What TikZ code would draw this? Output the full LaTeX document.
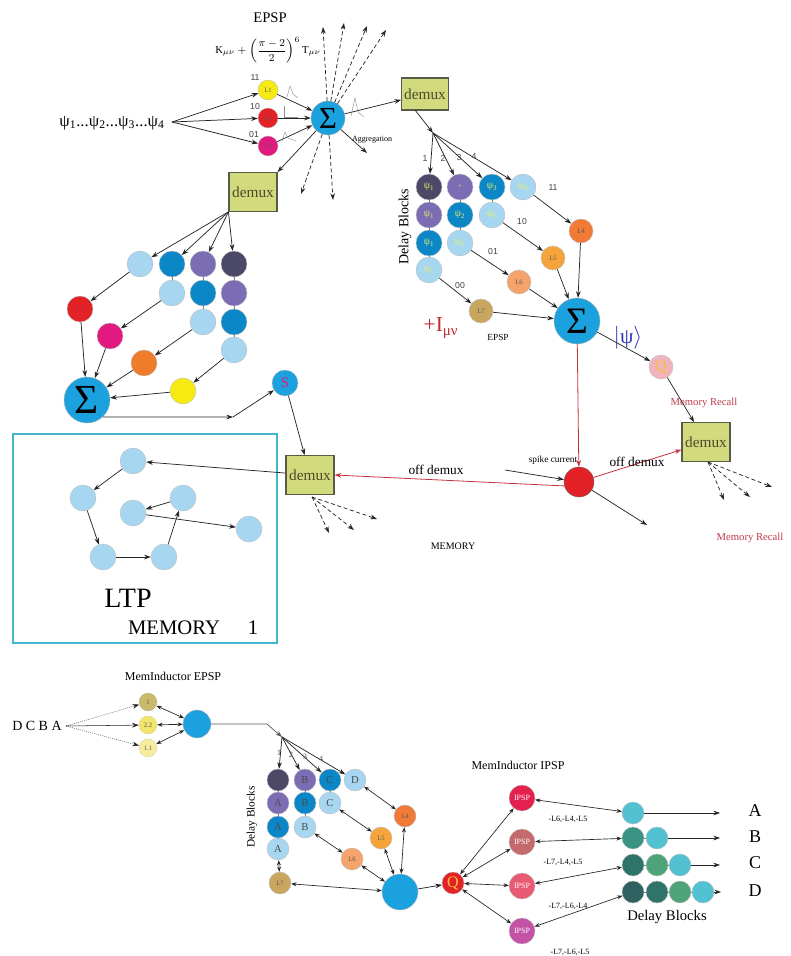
\documentclass[tikz,border=0pt]{standalone}
\usepackage{fontspec}
\setmainfont{Liberation Serif}
\newfontfamily\sansf{Liberation Sans}
\usetikzlibrary{arrows.meta}
\newcommand{\myfs}[1]{\fontsize{#1}{#1}\selectfont}
\definecolor{sigblue}{HTML}{1BA1DD}
\definecolor{dmx}{HTML}{D2DA7E}
\definecolor{dmxb}{HTML}{5A5A4A}
\definecolor{dmxt}{HTML}{4A4A2A}
\definecolor{cdark}{HTML}{4B4868}
\definecolor{cpurp}{HTML}{7B6CB4}
\definecolor{cblue}{HTML}{0B86C6}
\definecolor{clight}{HTML}{A6D6F0}
\definecolor{yel}{HTML}{F7EA10}
\definecolor{redc}{HTML}{E32227}
\definecolor{mag}{HTML}{E2197F}
\definecolor{orng}{HTML}{EF7C2A}
\definecolor{lfour}{HTML}{F07A36}
\definecolor{lfive}{HTML}{F5A43C}
\definecolor{lsix}{HTML}{F4A36A}
\definecolor{lseven}{HTML}{C9A65E}
\definecolor{qpink}{HTML}{F2B4BC}
\definecolor{qtext}{HTML}{F5C040}
\definecolor{redline}{HTML}{C8323F}
\definecolor{recall}{HTML}{C03A4A}
\definecolor{ltpbox}{HTML}{3FB6CC}
\definecolor{psiyel}{HTML}{E8F06A}
\definecolor{kblue}{HTML}{2A35B5}
\definecolor{termred}{HTML}{C02A30}
\definecolor{bone}{HTML}{C8BA6A}
\definecolor{btwo}{HTML}{F2E46A}
\definecolor{bthree}{HTML}{F6EC9C}
\definecolor{ipone}{HTML}{E4204E}
\definecolor{iptwo}{HTML}{C46A6C}
\definecolor{ipthree}{HTML}{E85A72}
\definecolor{ipfour}{HTML}{C452A6}
\definecolor{tcyan}{HTML}{52C2D2}
\definecolor{tgreen}{HTML}{4EA478}
\definecolor{tmid}{HTML}{3A9484}
\definecolor{tdark}{HTML}{2E7468}
\definecolor{tdarker}{HTML}{2E6262}
\begin{document}
\begin{tikzpicture}[x=0.75pt,y=-0.75pt,
  nd/.style={circle,inner sep=0pt,minimum size=#1,draw=black!25,line width=0.3pt},
  arr/.style={-{Stealth[length=5pt,width=3.5pt]},draw=black!85,line width=0.55pt},
  barr/.style={{Stealth[length=4pt,width=3pt]}-{Stealth[length=4pt,width=3pt]},draw=black!85,line width=0.5pt},
  darr/.style={-{Stealth[length=5pt,width=3.5pt]},draw=black!85,line width=0.55pt,dash pattern=on 3pt off 2pt},
  rarr/.style={-{Stealth[length=5pt,width=3.5pt]},draw=redline,line width=0.6pt},
  link/.style={draw=black!50,line width=0.4pt},
  pulse/.style={draw=black!45,line width=0.3pt},
  dmxbox/.style={rectangle,draw=dmxb,fill=dmx,line width=0.8pt,minimum width=36pt,minimum height=29pt,inner sep=0pt,font=\myfs{11.5},text=dmxt},
  sml/.style={font=\sansf\myfs{6.5},text=black!75},
  lab/.style={font=\myfs{5},text=black!65},
  psil/.style={font=\myfs{7.5},text=psiyel},
  abc/.style={font=\myfs{8},text=black!70}
]
\fill[white] (0,0) rectangle (791,956);
\useasboundingbox (0,0) rectangle (791,956);

%================ TOP =================
\node[font=\myfs{11}] (epsp) at (270,18) {EPSP};
\node[font=\myfs{8}] (formula) at (268,50) {$\displaystyle \mathrm{K}_{\mu\nu}+\left(\frac{\pi-2}{2}\right)^{6}\mathrm{T}_{\mu\nu}$};
\node[font=\myfs{12.5}] (psi) at (112,123) {ψ\textsubscript{1}...ψ\textsubscript{2}...ψ\textsubscript{3}...ψ\textsubscript{4}};
\coordinate (psiR) at (172,122);

\node[nd=15pt,fill=yel,lab] (L1) at (268,90) {L1};
\node[nd=15pt,fill=redc,lab] (L2) at (268,118) {L2};
\node[nd=15pt,fill=mag,lab] (L3) at (268,146) {L3};
\node[sml] at (255,78) {11};
\node[sml] at (255,107) {10};
\node[sml] at (254,135) {01};

\node[nd=25.5pt,fill=sigblue,draw=black!30,font=\myfs{23}] (SigT) at (328,118) {Σ};
\node[dmxbox,minimum width=35pt,minimum height=24pt] (demuxT) at (425,94) {demux};
\node[dmxbox] (demuxL) at (253,192) {demux};

\draw[arr] (psiR) -- (L1);
\draw[arr] (psiR) -- (L2);
\draw[arr] (psiR) -- (L3);
\draw[arr] (L1) -- (SigT);
\draw[arr] (L2) -- (SigT);
\draw[arr] (L3) -- (SigT);
\draw[arr] (SigT) -- (demuxT);
\draw[arr] (SigT) -- (demuxL.north east);

% pulses
\draw[pulse] (287,97) -- (290,86) -- (293,94) -- (298,98);
\draw[pulse] (284,106) -- (284,117) -- (298,117);
\draw[pulse] (282,141) -- (285,132) -- (288,138) -- (296,141);
\draw[pulse] (351,116) -- (355,98) -- (358,112) -- (364,117);

% dashed fan
\coordinate (t1) at (323,27);
\coordinate (t2) at (344,23);
\coordinate (t3) at (367,26);
\coordinate (t4) at (386,30);
\coordinate (t5) at (301,194);
\coordinate (t6) at (333,200);
\coordinate (t7) at (367,153);
\draw[darr] (SigT) -- (t1);
\draw[darr] (SigT) -- (t2);
\draw[darr] (SigT) -- (t3);
\draw[darr] (SigT) -- (t4);
\draw[darr] (SigT) -- (t5);
\draw[darr] (SigT) -- (t6);
\draw[arr] (SigT) -- (t7);
\node[font=\myfs{6}] at (372,140) {Aggregation};

%================ TOP RIGHT =================
\coordinate (dTo) at (415,110);
\coordinate (sp1) at (433,133);
\draw[arr] (dTo) -- (sp1);

\node[nd=19.5pt,fill=cdark,psil] (D11) at (429,187) {ψ\textsubscript{1}};
\node[nd=19.5pt,fill=cpurp,psil] (D12) at (460,187) {\myfs{5}+};
\node[nd=19.5pt,fill=cblue,psil] (D13) at (492,187) {ψ\textsubscript{3}};
\node[nd=19.5pt,fill=clight,psil] (D14) at (523,187) {ψ\textsubscript{4}};
\node[nd=19.5pt,fill=cpurp,psil] (D21) at (429,215) {ψ\textsubscript{1}};
\node[nd=19.5pt,fill=cblue,psil] (D22) at (460,215) {ψ\textsubscript{2}};
\node[nd=19.5pt,fill=clight,psil] (D23) at (492,215) {ψ\textsubscript{3}};
\node[nd=19.5pt,fill=cblue,psil] (D31) at (429,243) {ψ\textsubscript{1}};
\node[nd=19.5pt,fill=clight,psil] (D32) at (460,243) {ψ\textsubscript{2}};
\node[nd=19.5pt,fill=clight,psil] (D41) at (429,270) {ψ\textsubscript{1}};
\draw[link] (D11) -- (D21) -- (D31) -- (D41);
\draw[link] (D12) -- (D22) -- (D32);
\draw[link] (D13) -- (D23);

\draw[arr] (sp1) -- (D11);
\draw[arr] (sp1) -- (D12);
\draw[arr] (sp1) -- (D13);
\draw[arr] (sp1) -- (D14);
\node[sml] at (425,159) {1};
\node[sml] at (443,158) {2};
\node[sml] at (459,158) {3};
\node[sml] at (474,157) {4};
\node[rotate=90,font=\myfs{10.5}] at (405,227) {Delay Blocks};
\node[sml] at (553,188) {11};
\node[sml] at (522,222) {10};
\node[sml] at (493,252) {01};
\node[sml] at (460,286) {00};

\node[nd=18pt,fill=lfour,lab] (L4) at (581,231) {L4};
\node[nd=18pt,fill=lfive,lab] (L5) at (553,258) {L5};
\node[nd=18pt,fill=lsix,lab] (L6) at (519,282) {L6};
\node[nd=18pt,fill=lseven,lab] (L7) at (481,311) {L7};
\node[nd=34.5pt,fill=sigblue,draw=black!30,font=\myfs{28}] (SigB) at (577,321) {Σ};
\draw[arr] (D14) -- (L4);
\draw[arr] (D23) -- (L5);
\draw[arr] (D32) -- (L6);
\draw[arr] (D41) -- (L7);
\draw[arr] (L4) -- (SigB);
\draw[arr] (L5) -- (SigB);
\draw[arr] (L6) -- (SigB);
\draw[arr] (L7) -- (SigB);
\node[font=\myfs{16},text=termred] at (441,328) {+I\textsubscript{μν}};
\node[font=\myfs{7}] at (498,337) {EPSP};
\node[font=\myfs{16},text=kblue] at (628,338) {$\left|\mbox{ψ}\right\rangle$};

\node[nd=18pt,fill=qpink,font=\myfs{12},text=qtext] (Q) at (661,367) {Q};
\node[dmxbox] (demuxR) at (706,442) {demux};
\node[font=\myfs{8},text=recall] at (704,403) {Memory Recall};
\node[nd=22.5pt,fill=redc,draw=black!60] (redC) at (579,482) {};
\draw[arr] (SigB) -- (Q);
\draw[arr] (Q) -- (demuxR);
\draw[rarr] (SigB) -- (redC);
\draw[rarr] (redC) -- (demuxR);
\node[font=\myfs{7}] at (553,460) {spike current};
\coordinate (spk) at (505,470);
\draw[arr] (spk) -- (redC);
\coordinate (rout) at (647,525);
\draw[arr] (redC) -- (rout);
\node[font=\myfs{10}] at (637,462) {off demux};
\coordinate (dRo) at (708,462);
\coordinate (r1) at (724,500);
\coordinate (r2) at (750,497);
\coordinate (r3) at (772,487);
\draw[darr] (dRo) -- (r1);
\draw[darr] (dRo) -- (r2);
\draw[darr] (dRo) -- (r3);
\node[font=\myfs{8},text=recall] at (750,538) {Memory Recall};

%================ LEFT =================
\node[nd=19.5pt,fill=clight] (E11) at (140,264) {};
\node[nd=19.5pt,fill=cblue] (E12) at (172,264) {};
\node[nd=19.5pt,fill=cpurp] (E13) at (203,264) {};
\node[nd=19.5pt,fill=cdark] (E14) at (234,264) {};
\node[nd=19.5pt,fill=clight] (E22) at (172,293) {};
\node[nd=19.5pt,fill=cblue] (E23) at (203,293) {};
\node[nd=19.5pt,fill=cpurp] (E24) at (234,293) {};
\node[nd=19.5pt,fill=clight] (E33) at (203,322) {};
\node[nd=19.5pt,fill=cblue] (E34) at (234,322) {};
\node[nd=19.5pt,fill=clight] (E44) at (234,350) {};
\draw[link] (E12) -- (E22);
\draw[link] (E13) -- (E23) -- (E33);
\draw[link] (E14) -- (E24) -- (E34) -- (E44);
\draw[arr] (demuxL.south west) -- (E11);
\draw[arr] (demuxL.south west) -- (E12);
\draw[arr] (demuxL.south west) -- (E13);
\draw[arr] (demuxL.south west) -- (E14);

\node[nd=19.5pt,fill=redc] (Rd) at (80,309) {};
\node[nd=19.5pt,fill=mag] (Mg) at (110,336) {};
\node[nd=19.5pt,fill=orng] (Or) at (144,363) {};
\node[nd=19.5pt,fill=yel] (Ye) at (183,391) {};
\node[nd=34.5pt,fill=sigblue,draw=black!30,font=\myfs{31}] (SigL) at (87,400) {Σ};
\draw[arr] (E11) -- (Rd);
\draw[arr] (E22) -- (Mg);
\draw[arr] (E33) -- (Or);
\draw[arr] (E44) -- (Ye);
\draw[arr] (Rd) -- (SigL);
\draw[arr] (Mg) -- (SigL);
\draw[arr] (Or) -- (SigL);
\draw[arr] (Ye) -- (SigL);

\node[nd=19.5pt,fill=sigblue,font=\myfs{11},text=mag] (S) at (285,383) {S};
\coordinate (kink) at (233,417);
\draw[arr] (SigL.-47) -- (kink);
\draw[arr] (kink) -- (S);
\node[dmxbox] (demuxLB) at (310,475) {demux};
\draw[arr] (S) -- (demuxLB);
\draw[rarr] (redC.195) -- (demuxLB.east);
\node[font=\myfs{10}] at (436,470) {off demux};
\coordinate (dLo) at (312,497);
\coordinate (m1) at (329,533);
\coordinate (m2) at (354,530);
\coordinate (m3) at (377,519);
\draw[darr] (dLo) -- (m1);
\draw[darr] (dLo) -- (m2);
\draw[darr] (dLo) -- (m3);
\node[font=\myfs{7.5}] at (453,546) {MEMORY};

% LTP box
\draw[ltpbox,line width=1pt] (13,434) rectangle (277,643);
\node[nd=19.5pt,fill=clight] (C1) at (133,461) {};
\node[nd=19.5pt,fill=clight] (C2) at (83,498) {};
\node[nd=19.5pt,fill=clight] (C3) at (183,498) {};
\node[nd=19.5pt,fill=clight] (C4) at (133,513) {};
\node[nd=19.5pt,fill=clight] (C5) at (249,529) {};
\node[nd=19.5pt,fill=clight] (C6) at (103,557) {};
\node[nd=19.5pt,fill=clight] (C7) at (164,557) {};
\draw[arr] (demuxLB) -- (C1);
\draw[arr] (C1) -- (C2);
\draw[arr] (C2) -- (C6);
\draw[arr] (C6) -- (C7);
\draw[arr] (C7) -- (C3);
\draw[arr] (C3) -- (C4);
\draw[arr] (C4) -- (C5);
\node[font=\myfs{21}] at (128,598) {LTP};
\node[font=\myfs{15.5}] at (174,628) {MEMORY};
\node[font=\myfs{15.5}] at (253,628) {1};

%================ BOTTOM =================
\node[font=\myfs{9}] at (173,676) {MemInductor EPSP};
\node[font=\myfs{10.5}] (dcba) at (37,726) {D C B A};
\coordinate (dcbaR) at (66,726);
\node[nd=13.5pt,fill=bone,draw=black!40,densely dotted,lab] (b1) at (148,702) {1};
\node[nd=13.5pt,fill=btwo,draw=black!40,densely dotted,lab] (b2) at (148,725) {2.2};
\node[nd=13.5pt,fill=bthree,draw=black!40,densely dotted,lab] (b3) at (148,748) {1.1};
\draw[arr,densely dotted,line width=0.4pt] (dcbaR) -- (b1);
\draw[arr,line width=0.4pt] (dcbaR) -- (b2);
\draw[arr,densely dotted,line width=0.4pt] (dcbaR) -- (b3);
\node[nd=21pt,fill=sigblue] (bblue) at (197,724) {};
\draw[barr] (b1) -- (bblue);
\draw[barr] (b2) -- (bblue);
\draw[barr] (b3) -- (bblue);
\coordinate (kink2) at (267,724);
\coordinate (sp2) at (282,737);
\draw[arr,draw=black!65] (bblue) -- (kink2) -- (sp2);

\node[nd=16.5pt,fill=cdark,abc] (F11) at (278,780) {A};
\node[nd=16.5pt,fill=cpurp,abc] (F12) at (305,780) {B};
\node[nd=16.5pt,fill=cblue,abc] (F13) at (330,780) {C};
\node[nd=16.5pt,fill=clight,abc] (F14) at (355,780) {D};
\node[nd=16.5pt,fill=cpurp,abc] (F21) at (278,803) {A};
\node[nd=16.5pt,fill=cblue,abc] (F22) at (305,803) {B};
\node[nd=16.5pt,fill=clight,abc] (F23) at (330,803) {C};
\node[nd=16.5pt,fill=cblue,abc] (F31) at (278,827) {A};
\node[nd=16.5pt,fill=clight,abc] (F32) at (305,827) {B};
\node[nd=16.5pt,fill=clight,abc] (F41) at (278,849) {A};
\draw[link] (F11) -- (F21) -- (F31) -- (F41);
\draw[link] (F12) -- (F22) -- (F32);
\draw[link] (F13) -- (F23);
\draw[arr] (sp2) -- (F11);
\draw[arr] (sp2) -- (F12);
\draw[arr] (sp2) -- (F13);
\draw[arr] (sp2) -- (F14);
\node[font=\myfs{6},text=black!70] at (279,753) {1};
\node[font=\myfs{6},text=black!70] at (291,755) {2};
\node[font=\myfs{6},text=black!70] at (305,757) {3};
\node[font=\myfs{6},text=black!70] at (321,759) {4};
\node[rotate=90,font=\myfs{8.5}] at (252,817) {Delay Blocks};

\node[nd=16.5pt,fill=lfour,lab] (BL4) at (405,816) {L4};
\node[nd=16.5pt,fill=lfive,lab] (BL5) at (381,838) {L5};
\node[nd=16.5pt,fill=lsix,lab] (BL6) at (352,859) {L6};
\node[nd=16.5pt,fill=lseven,lab] (BL7) at (280,883) {L7};
\node[nd=27pt,fill=sigblue] (bbig) at (400,892) {};
\draw[barr] (F14) -- (BL4);
\draw[barr] (F23) -- (BL5);
\draw[barr] (F32) -- (BL6);
\draw[barr] (F41) -- (BL7);
\draw[barr] (BL4) -- (bbig);
\draw[barr] (BL5) -- (bbig);
\draw[barr] (BL6) -- (bbig);
\draw[barr] (BL7) -- (bbig);
\node[nd=16.5pt,fill=redc,font=\myfs{12},text=qtext] (bQ) at (453,883) {Q};
\draw[arr] (bbig) -- (bQ);

\node[font=\myfs{9}] at (518,765) {MemInductor IPSP};
\node[nd=19.5pt,fill=ipone,font=\myfs{6},text=white] (IP1) at (522,798) {IPSP};
\node[nd=19.5pt,fill=iptwo,font=\myfs{6},text=white] (IP2) at (522,842) {IPSP};
\node[nd=19.5pt,fill=ipthree,font=\myfs{6},text=white] (IP3) at (522,886) {IPSP};
\node[nd=19.5pt,fill=ipfour,font=\myfs{6},text=white] (IP4) at (522,931) {IPSP};
\draw[barr] (bQ) -- (IP1);
\draw[barr] (bQ) -- (IP2);
\draw[barr] (bQ) -- (IP3);
\draw[barr] (bQ) -- (IP4);

\node[nd=16.5pt,fill=tcyan] (TA1) at (633,813) {};
\node[nd=16.5pt,fill=tmid] (TB1) at (633,838) {};
\node[nd=16.5pt,fill=tcyan] (TB2) at (657,838) {};
\node[nd=16.5pt,fill=tdark] (TC1) at (633,865) {};
\node[nd=16.5pt,fill=tgreen] (TC2) at (657,865) {};
\node[nd=16.5pt,fill=tcyan] (TC3) at (680,865) {};
\node[nd=16.5pt,fill=tdarker] (TD1) at (633,892) {};
\node[nd=16.5pt,fill=tdark] (TD2) at (657,892) {};
\node[nd=16.5pt,fill=tgreen] (TD3) at (680,892) {};
\node[nd=16.5pt,fill=tcyan] (TD4) at (703,892) {};
\draw[link] (TB1) -- (TB2);
\draw[link] (TC1) -- (TC2) -- (TC3);
\draw[link] (TD1) -- (TD2) -- (TD3) -- (TD4);
\draw[barr] (IP1) -- (TA1);
\draw[barr] (IP2) -- (TB1);
\draw[barr] (IP3) -- (TC1);
\draw[barr] (IP4) -- (TD1);
\coordinate (eA) at (720,813);
\coordinate (eB) at (720,838);
\coordinate (eC) at (720,865);
\coordinate (eD) at (721,892);
\draw[arr] (TA1) -- (eA);
\draw[arr] (TB2) -- (eB);
\draw[arr] (TC3) -- (eC);
\draw[arr] (TD4) -- (eD);
\node[font=\myfs{13.5}] at (755,811) {A};
\node[font=\myfs{13.5}] at (755,837) {B};
\node[font=\myfs{13.5}] at (755,863) {C};
\node[font=\myfs{13.5}] at (755,891) {D};
\node[font=\myfs{11}] at (667,917) {Delay Blocks};
\node[font=\myfs{6}] at (568,819) {-L6,-L4,-L5};
\node[font=\myfs{6}] at (563,862) {-L7,-L4,-L5};
\node[font=\myfs{6}] at (568,906) {-L7,-L6,-L4};
\node[font=\myfs{6}] at (570,952) {-L7,-L6,-L5};
\end{tikzpicture}
\end{document}
